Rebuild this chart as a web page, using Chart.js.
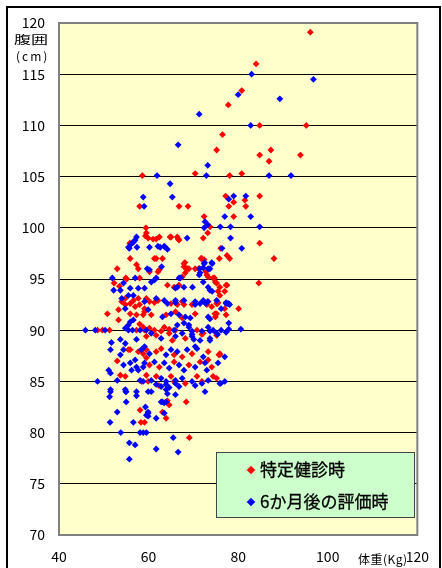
<!DOCTYPE html>
<html>
<head>
<meta charset="utf-8">
<script src="https://cdn.jsdelivr.net/npm/chart.js@4.4.1/dist/chart.umd.min.js"></script>
<style>
  html, body { margin: 0; padding: 0; background: #fff; }
  #wrap { position: relative; width: 442px; height: 568px; overflow: hidden; font-family: "Noto Sans CJK JP", "DejaVu Sans", sans-serif; }
  #frame { position: absolute; left: 6px; top: 6px; width: 435px; height: 600px; border: 2px solid #000; box-sizing: border-box; }
  canvas { position: absolute; left: 0; top: 0; }
  .lbl { position: absolute; color: #000; white-space: nowrap; transform-origin: 0 0; }
  #legend { position: absolute; left: 216px; top: 452px; width: 199px; height: 66px; background: #ccffcc; border: 1px solid #444; box-sizing: border-box; }
  .lg { position: absolute; left: 31px; font-size: 17px; line-height: 20px; -webkit-text-stroke: 0.3px #000; }
  .lg i { display: inline-block; width: 6px; height: 6px; transform: rotate(45deg); margin-right: 6px; vertical-align: 3px; }
</style>
</head>
<body>
<div id="wrap">
  <div id="frame"></div>
  <canvas id="c" width="442" height="568"></canvas>
  <div class="lbl" style="left:14px; top:31px; font-size:11px; transform:scaleX(1.55);">腹囲</div>
  <div class="lbl" style="left:16px; top:47px; font-size:12px; letter-spacing:2px;">(cm)</div>
  <div class="lbl" style="left:358px; top:550px; font-size:12px; letter-spacing:0.5px;">体重(Kg)</div>
  <div id="legend">
    <div class="lg" style="top:6px;"><i style="background:#ff0000"></i>特定健診時</div>
    <div class="lg" style="top:38px;"><i style="background:#0000ff"></i>6か月後の評価時</div>
  </div>
</div>
<script>
// weight (kg), waist (cm)
const SERIES_NAMES = ['特定健診時', '6か月後の評価時'];
const X_TICKS = [40, 60, 80, 100, 120];
const Y_TICKS = [70, 75, 80, 85, 90, 95, 100, 105, 110, 115, 120];

const checkupPoints = [
  [96.1,119.1],[84.0,116.0],[80.8,113.4],[77.8,112.0],[84.8,110.0],[95.2,110.0],[76.5,109.1],[75.2,107.6],
  [87.3,107.6],[84.8,107.1],[93.9,107.1],[86.9,106.5],[70.4,105.3],[78.1,105.1],[80.8,105.3],[58.6,105.1],
  [77.2,103.1],[79.0,102.5],[81.5,102.7],[84.8,103.1],[81.7,102.1],[77.9,102.1],[66.8,102.1],[68.8,102.1],[58.0,102.1],
  [79.0,101.1],[72.4,101.1],[73.7,100.1],[73.2,99.5],[66.8,98.8],[84.8,98.5],[76.1,98.0],[77.5,97.3],[78.1,97.0],
  [75.8,97.0],[88.0,97.0],[71.9,97.0],[72.4,96.9],[72.8,95.7],[73.0,95.4],[68.6,96.0],[74.7,95.1],[74.9,94.7],
  [77.5,94.4],[75.9,94.2],[84.6,94.6],[75.5,93.8],[75.9,93.4],[75.2,92.6],[80.1,92.1],[77.0,92.1],[74.9,91.6],
  [74.9,91.3],[71.9,89.6],[75.9,87.7],
  [59.4,100.0],[59.5,99.5],[59.9,99.0],[61.7,98.9],[62.4,99.1],[61.0,98.9],[64.8,99.1],[66.6,98.9],[56.2,98.5],
  [55.9,97.0],[61.3,97.0],[57.3,96.4],[57.7,96.0],[53.0,96.0],[60.2,95.7],[62.1,95.7],[67.9,96.5],[68.4,96.0],
  [71.7,97.0],[69.0,96.0],[73.3,95.2],[74.4,95.1],[54.9,95.1],[58.0,95.1],
  [55.8,98.5],[59.3,99.2],[55.1,95.0],[52.3,94.6],[53.5,94.3],[54.8,93.1],[56.6,92.9],[57.7,93.1],
  [65.0,99.1],[66.4,99.1],[72.2,99.0],[61.7,97.0],[63.1,97.0],[68.1,96.6],[67.9,96.2],[70.4,96.0],[71.2,96.0],
  [68.2,95.6],[67.5,95.2],[62.4,95.9],[64.2,94.4],[66.8,94.4],[65.7,94.2],[75.2,94.6],[77.0,93.8],[59.5,93.1],
  [60.2,92.8],[67.5,92.8],[67.9,92.5],[65.0,92.6],[73.0,92.5],[74.1,92.3],[75.4,92.6],
  [54.0,92.8],[54.8,92.5],[55.9,92.6],[57.0,92.3],[58.0,92.5],[59.1,92.1],
  [53.3,92.0],[50.8,91.6],[55.9,91.6],[57.3,91.5],[58.8,91.5],[53.3,91.0],[58.0,90.6],[58.8,90.3],
  [48.6,90.0],[49.7,90.0],[51.3,90.0],[57.3,90.0],[55.5,88.1],[55.9,88.1],[57.7,87.9],[58.8,87.7],[53.0,87.0],
  [59.5,87.3],[53.7,85.6],[54.8,85.5],
  [58.4,85.0],[58.1,82.2],[58.3,81.0],[59.1,81.0],
  [59.9,85.0],[62.3,84.6],[65.7,85.0],[68.2,84.8],[71.9,85.0],[64.2,83.1],[64.6,82.7],[68.4,83.0],[63.1,82.0],
  [63.9,81.4],[69.1,79.5],
  [61.3,92.7],[62.1,92.9],[66.4,92.5],[69.7,92.5],[73.3,92.8],[75.5,92.7],
  [59.1,91.8],[60.6,91.5],[63.9,91.5],[66.0,91.8],[67.5,91.2],[70.4,91.6],[74.8,91.6],[77.3,91.5],
  [59.1,90.0],[60.2,90.2],[61.3,90.0],[62.8,89.9],[63.5,90.3],[64.6,90.1],[66.0,90.0],[70.8,90.0],
  [59.5,89.4],[61.7,89.5],[64.6,89.7],[65.3,89.0],[68.2,89.2],[72.2,89.7],[75.2,89.5],
  [59.5,88.1],[61.7,87.9],[62.8,88.2],[65.7,87.6],[67.5,87.4],[69.7,87.7],[73.3,87.9],[75.9,87.6],
  [60.2,86.6],[62.4,86.4],[65.7,86.9],[69.0,86.6],[71.5,86.9],[74.1,86.4],
  [59.5,85.6],[61.7,85.5],[65.0,85.5],[70.8,85.5],[75.2,85.3],
  [77.3,94.4],[75.2,91.6],[75.7,87.6],[74.4,85.5],[73.3,87.1]
];

const followupPoints = [
  [83.0,115.0],[96.8,114.5],[80.0,113.0],[89.3,112.6],[71.3,111.1],[82.8,110.0],[66.6,108.1],[73.2,106.1],
  [72.9,105.1],[86.9,105.1],[91.8,105.1],[61.9,105.1],[64.8,104.3],[65.3,103.0],[58.8,103.0],[59.0,102.1],
  [79.0,103.1],[77.9,102.8],[81.7,103.1],[77.0,101.1],[82.8,101.1],[72.6,100.6],[73.2,100.3],[72.4,100.0],
  [76.0,100.1],[78.3,100.1],[84.8,100.1],[68.6,99.0],[78.3,99.0],[80.8,98.0],[76.4,98.0],
  [74.2,96.5],[73.7,96.0],[72.4,96.5],[71.4,96.0],[66.8,95.1],[66.4,94.2],[67.9,94.2],[69.8,94.2],[73.7,93.9],
  [74.2,93.8],[77.3,92.6],[77.9,92.6],[72.8,92.6],[73.7,91.1],[77.9,90.7],[77.9,90.1],[80.6,90.1],[75.4,89.6],[73.7,89.9],
  [57.3,99.1],[57.0,98.8],[55.5,98.1],[57.4,98.1],[60.2,98.1],[62.6,98.1],[63.7,98.1],[64.2,97.9],[59.7,96.0],
  [62.9,96.2],[71.5,95.6],[51.9,95.1],[57.0,95.1],[61.7,95.1],[67.1,95.1],
  [56.6,98.6],[56.1,98.4],[55.7,98.0],[52.2,93.9],[53.7,93.9],[54.4,94.6],[55.9,94.1],[57.7,94.1],[59.1,94.1],
  [54.0,93.1],[55.5,93.4],[56.6,93.4],
  [62.1,98.2],[63.5,98.2],[72.5,96.6],[74.1,96.6],[72.2,96.1],[73.3,96.0],[71.3,95.4],[60.2,95.9],
  [61.3,94.9],[60.6,94.7],[66.0,94.1],[72.2,94.7],[73.3,94.2],[61.7,93.1],[63.5,92.9],[66.0,92.9],[70.4,92.8],
  [71.5,92.6],[72.2,92.9],[73.2,92.8],[78.1,92.5],
  [54.8,92.1],[55.9,90.8],[55.5,90.5],[54.8,90.2],[56.6,91.0],[45.9,90.0],[48.1,90.0],[50.3,90.0],[55.5,90.0],
  [56.4,90.0],[58.1,90.0],[59.5,90.0],[51.7,88.8],[51.5,88.1],[53.7,89.1],[54.8,88.7],[53.7,87.6],[54.4,88.1],
  [57.3,89.1],[58.4,88.1],[59.1,88.4],[54.4,86.6],[55.9,86.8],[56.2,86.1],[57.3,86.4],[57.7,86.1],[58.8,86.4],
  [57.0,87.1],[51.1,86.1],[51.5,85.8],[53.0,85.1],[48.6,85.0],[58.1,85.1],[58.8,85.0],[51.5,84.2],[54.8,84.2],
  [51.5,84.0],[51.3,83.5],[54.9,84.0],[57.3,84.0],[57.3,83.6],[55.0,83.0],[53.0,82.0],[59.3,82.5],[59.9,81.9],
  [51.4,81.0],[56.6,81.0],[53.8,80.0],[58.1,80.0],[58.8,80.0],[59.5,80.0],[55.7,79.0],[57.0,78.8],[55.7,77.4],
  [59.9,84.0],[60.6,84.0],[61.7,84.7],[62.8,84.5],[63.9,84.7],[64.6,84.4],[66.0,84.8],[66.8,84.5],[70.4,84.6],
  [72.6,84.0],[76.1,84.8],[63.9,84.2],[64.2,83.8],[66.0,83.7],[62.8,83.0],[63.5,82.9],[59.9,82.0],[59.5,81.7],
  [61.7,81.4],[63.5,81.9],[65.5,79.5],[61.7,78.4],[66.6,78.1],
  [59.1,92.8],[64.2,92.6],[66.0,92.7],[67.9,92.9],[70.4,92.5],[72.6,92.7],[75.2,92.9],[77.3,92.7],
  [59.9,92.0],[63.1,91.3],[65.0,91.6],[66.8,91.5],[68.2,91.3],[69.3,91.2],[73.3,91.3],[76.2,92.1],
  [65.7,90.0],[66.4,90.5],[67.9,90.7],[69.0,90.5],[69.7,89.9],[71.9,89.9],[73.3,90.3],[74.4,90.0],[76.2,90.0],
  [77.3,89.8],[69.0,90.3],[69.7,89.6],[70.1,89.1],[70.4,88.4],
  [60.6,89.7],[62.8,89.2],[66.0,89.4],[67.5,89.7],[69.7,89.4],[71.5,89.0],[73.7,89.2],
  [60.2,87.7],[63.9,87.6],[65.0,88.1],[66.4,87.9],[68.6,88.1],[70.8,88.2],[72.2,87.4],[77.0,87.4],
  [59.1,86.8],[61.3,86.9],[63.5,86.8],[64.6,86.3],[66.8,86.6],[67.9,86.1],[70.4,86.4],[73.0,86.1],[75.5,86.8],
  [60.6,85.1],[62.8,85.3],[63.9,85.0],[66.0,85.1],[67.5,85.3],[69.7,85.0],[71.9,84.8],[73.3,85.1],[77.0,85.0],
  [75.2,89.7],[75.9,84.8],[77.7,92.6],[73.7,89.0],[72.6,86.8],[63.9,83.0],[63.1,83.0],[59.9,81.6],[55.0,84.0]
];

const toXY = pts => pts.map(([x, y]) => ({ x, y }));

const plotBg = {
  id: 'plotBg',
  beforeDraw(chart) {
    const { ctx, chartArea: a } = chart;
    ctx.save();
    ctx.fillStyle = '#ffffcc';
    ctx.fillRect(a.left, a.top, a.right - a.left, a.bottom - a.top);
    ctx.restore();
  },
  beforeDatasetsDraw(chart) {
    const { ctx, chartArea: a } = chart;
    ctx.save();
    ctx.strokeStyle = '#808080';
    ctx.lineWidth = 2;
    ctx.strokeRect(a.left, a.top, a.right - a.left, a.bottom - a.top);
    ctx.restore();
  }
};

new Chart(document.getElementById('c').getContext('2d'), {
  type: 'scatter',
  data: {
    datasets: [
      { label: SERIES_NAMES[0], data: toXY(checkupPoints), backgroundColor: '#ff0000', order: 1 },
      { label: SERIES_NAMES[1], data: toXY(followupPoints), backgroundColor: '#0000ff', order: 0 },
    ],
  },
  options: {
    responsive: false,
    animation: false,
    events: [],
    layout: { padding: { left: 0, top: 23, right: 16, bottom: 0 } },
    elements: { point: { pointStyle: 'rectRot', radius: 3.4, borderWidth: 0, hoverRadius: 3.4 } },
    plugins: { legend: { display: false }, tooltip: { enabled: false } },
    scales: {
      x: {
        type: 'linear', min: 40, max: 120,
        afterBuildTicks: s => { s.ticks = X_TICKS.map(v => ({ value: v })); },
        afterFit: s => { s.height = 33; },
        grid: { display: false, drawTicks: false },
        border: { display: false },
        ticks: { color: '#000', padding: 13, maxRotation: 0, font: { family: '"Noto Sans CJK JP", sans-serif', size: 14 } },
      },
      y: {
        type: 'linear', min: 70, max: 120,
        afterBuildTicks: s => { s.ticks = Y_TICKS.map(v => ({ value: v })); },
        afterFit: s => { s.width = 59; },
        grid: {
          drawTicks: false,
          color: c => (c.tick.value === 70 || c.tick.value === 120) ? 'rgba(0,0,0,0)' : '#000',
          lineWidth: 1,
        },
        border: { display: false },
        ticks: { color: '#000', padding: 14, font: { family: '"Noto Sans CJK JP", sans-serif', size: 14 } },
      },
    },
  },
  plugins: [plotBg],
});
</script>
</body>
</html>
